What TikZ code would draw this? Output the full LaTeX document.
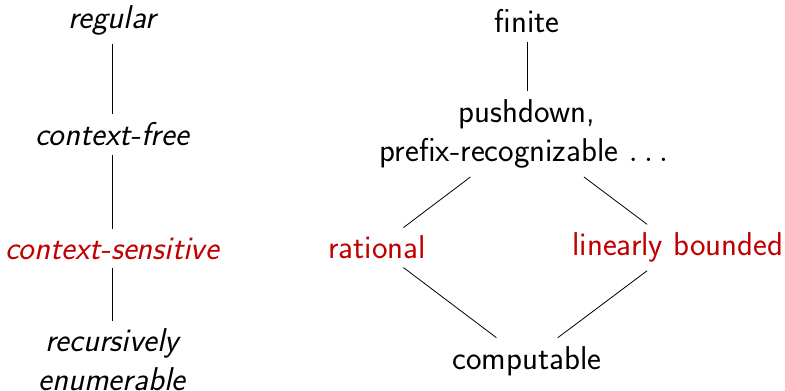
\documentclass[tikz,border=0pt]{standalone}
\usepackage{amsmath}
\usepackage{amssymb}
\usepackage{tikz}

\definecolor{hired}{RGB}{192,0,0}

\begin{document}
\begin{tikzpicture}[x=0.5pt,y=0.5pt,yscale=-1,xscale=1,
    every node/.style={font=\sffamily\fontsize{16.5}{19.5}\selectfont,inner sep=4pt,align=center},
    lang/.style={font=\sffamily\itshape\fontsize{16.5}{19.5}\selectfont},
    hot/.style={text=hired}]
            \useasboundingbox (0,0) rectangle (785,390);
            % languages
            \draw (112,20.7) node [lang] (reg) {regular};
            \draw (112,134.5) node [lang] (cf) {context-free};
            \draw (112,248.5) node [lang,hot] (cs) {context-sensitive};
            \draw (112,360) node [lang] (re) {recursively\\enumerable};
            % graphs
            \draw (527,21.5) node (fin) {finite};
            \draw (527,134.2) node (push) {pushdown,\\prefix-recognizable $\dots$};
            \draw (377,247.6) node [hot] (rat) {rational};
            \draw (678,247.6) node [hot] (lin) {linearly bounded};
            \draw (527,360.8) node (comp) {computable};
            \draw    (reg) -- (cf) ;
            \draw    (cf) -- (cs) ;
            \draw    (cs) -- (re) ;
            \draw    (fin) -- (push) ;
            \draw    (push) -- (rat) ;
            \draw    (push) -- (lin) ;
            \draw    (rat) -- (comp) ;
            \draw    (lin) -- (comp) ;
          \end{tikzpicture}
\end{document}
